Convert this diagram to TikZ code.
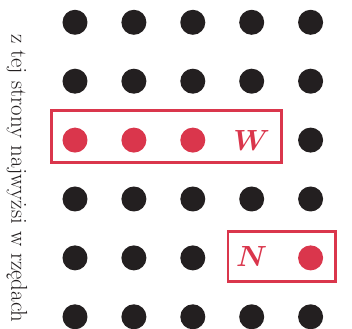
\documentclass[tikz,border=0pt]{standalone}
\usepackage{amsmath,amssymb}
\usepackage{bm}
\usetikzlibrary{positioning, calc}

\definecolor{czerwony}{RGB}{218,54,76}
\definecolor{czarny}{RGB}{35,31,32}

\begin{document}
\begin{tikzpicture}[x=1.4725cm, y=-1.4725cm]
	\tikzset{
		dot/.style={circle, fill=czarny, minimum size=0.625cm, inner sep=0pt},
		reddot/.style={dot, fill=czerwony},
		letter/.style={text=czerwony, font=\fontsize{20}{24}\selectfont, inner sep=0pt},
		frame/.style={draw=czerwony, line width=1.9pt}
	}
	\useasboundingbox (-0.2733,0.6214) rectangle (5.703,6.207);
	
	% pelne rzedy
	\foreach \r in {1,2,4,6} {
		\foreach \c in {1,...,5} {
			\node[dot] (d\r\c) at (\c, \r) {};
		}
	}
	
	% rzad z W
	\foreach \c in {1,...,3} {
		\node[reddot] (d3\c) at (\c, 3) {};
	}
	\node[letter] (W) at (4, 3.01) {$\bm{W}$};
	\node[dot] (d35) at (5, 3) {};
	
	% rzad z N
	\foreach \c in {1,...,3} {
		\node[dot] (d5\c) at (\c, 5) {};
	}
	\node[letter] (N) at (4, 4.98) {$\bm{N}$};
	\node[reddot] (d55) at (5, 5) {};
	
	% ramki
	\draw[frame] ($(d31)+(-0.402,-0.5)$) rectangle ($(W)+(0.503,0.367)$);
	\draw[frame] ($(N)+(-0.402,-0.432)$) rectangle ($(d55)+(0.426,0.404)$);
	
	% opis z boku
	\node[rotate=-90, font=\fontsize{16.3}{20}\selectfont, text=czarny] (opis) at (0.015, 3.652) {z tej strony najwyżsi w rzędach};
\end{tikzpicture}
\end{document}
